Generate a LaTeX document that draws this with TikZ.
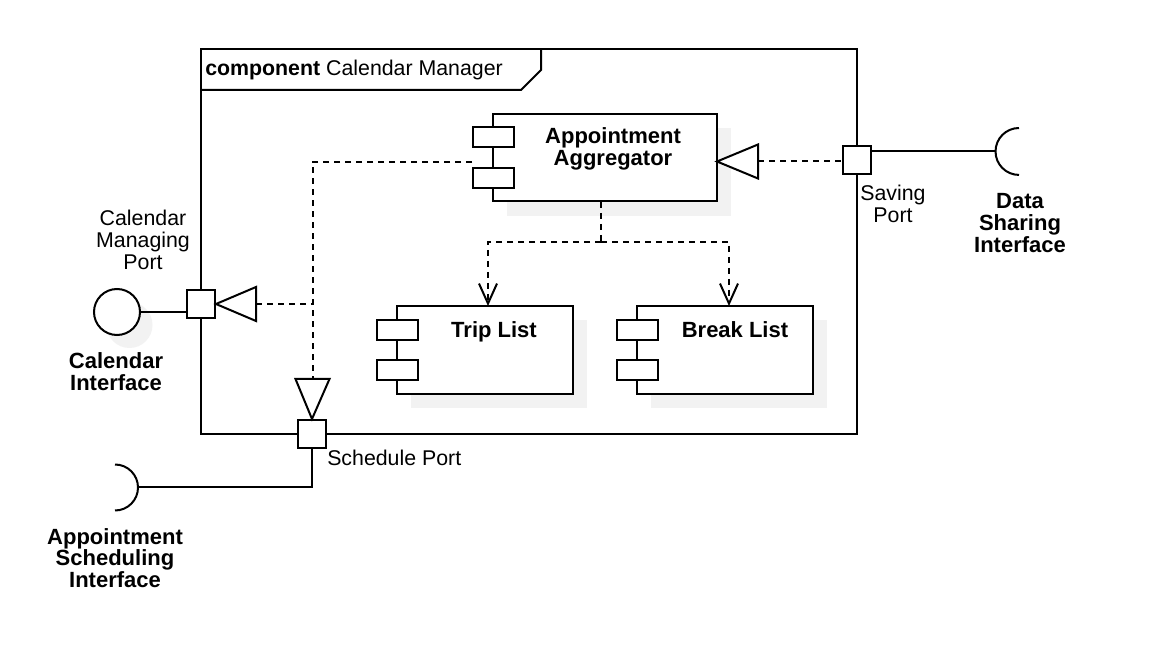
\documentclass[tikz,border=0pt]{standalone}
\usepackage{fontspec}
\setmainfont{Liberation Sans}
\usetikzlibrary{arrows.meta}
\definecolor{shd}{HTML}{F2F2F2}
\begin{document}
\begin{tikzpicture}[x=0.75pt,y=-0.75pt,
  ln/.style={line width=1.5pt},
  dsh/.style={line width=1.5pt, dash pattern=on 4.5pt off 3.75pt},
  compbox/.style={draw, line width=1.5pt, fill=white, inner sep=0pt},
  tabbox/.style={draw, line width=1.5pt, fill=white, minimum width=30.75pt, minimum height=15pt, inner sep=0pt},
  portbox/.style={draw, line width=1.5pt, fill=white, minimum size=21pt, inner sep=0pt},
  txt/.style={inner sep=0pt, align=center, font=\fontsize{16}{16.3}\selectfont},
  btxt/.style={inner sep=0pt, align=center, font=\fontsize{16.5}{16.3}\selectfont\bfseries},
  dep/.style={dsh, -{Straight Barb[length=15pt, width=13.5pt]}},
  tri/.style={line width=1.5pt, fill=white, line join=miter},
]
\fill[white] (0,0) rectangle (1158,652);
\useasboundingbox (0,0) rectangle (1158,652);

% frame
\draw[ln] (201,49) rectangle (857,434);
\draw[ln] (201,90) -- (521,90) -- (541,70) -- (541,49);
\node[txt, anchor=base west] (title) at (205,76) {\textbf{component} Calendar Manager};

% Appointment Aggregator
\fill[shd] (507,128) rectangle (731,216);
\node[compbox, minimum width=168pt, minimum height=65.25pt] (agg) at (605,157.5) {};
\node[tabbox] (aggt1) at (493,137.5) {};
\node[tabbox] (aggt2) at (493,178) {};
\node[btxt] (aggl) at (613,149) {Appointment\\Aggregator};

% Trip List
\fill[shd] (411,320) rectangle (587,408);
\node[compbox, minimum width=132.5pt, minimum height=66pt] (trip) at (485,350) {};
\node[tabbox] (tript1) at (397,330.3) {};
\node[tabbox] (tript2) at (397,369.7) {};
\node[btxt, anchor=base] (tripl) at (494,337.5) {Trip List};

% Break List
\fill[shd] (651,320) rectangle (827,408);
\node[compbox, minimum width=132.5pt, minimum height=66pt] (brk) at (725,350) {};
\node[tabbox] (brkt1) at (637,330.3) {};
\node[tabbox] (brkt2) at (637,369.7) {};
\node[btxt, anchor=base] (brkl) at (735,337.5) {Break List};

% coordinates
\coordinate (ds) at (601,242);
\coordinate (tripin) at (488,306);
\coordinate (brkin) at (729,306);
\coordinate (lc) at (312.5,162);
\coordinate (aggin) at (472,162);
\coordinate (jn) at (312.5,304);
\coordinate (stb) at (312.5,379);
\coordinate (ctb) at (256,304);
\coordinate (agt) at (717,161.5);
\coordinate (atb) at (758,161.5);
\coordinate (dsk) at (996,151.5);
\coordinate (dskt) at (1019,128);
\coordinate (ssk) at (138,487.5);
\coordinate (sskt) at (115,464.5);

% ports
\node[portbox] (cmp) at (201,304) {};
\node[portbox] (sch) at (312,434) {};
\node[portbox] (sav) at (857,160) {};

% dependencies
\draw[dsh] (agg.south -| ds) -- (ds);
\draw[dep] (ds) -| (tripin);
\draw[dep] (ds) -| (brkin);
\draw[dsh] (aggin) -- (lc) -- (stb);
\draw[dsh] (ctb) -- (jn);
\draw[dsh] (atb) -- (atb -| sav.west);

% triangles
\draw[tri] (sch.north) -- ([xshift=-12.75pt]stb) -- ([xshift=12.75pt]stb) -- cycle;
\draw[tri] (cmp.east) -- ([yshift=12.75pt]ctb) -- ([yshift=-12.75pt]ctb) -- cycle;
\draw[tri] (agt) -- ([yshift=12.75pt]atb) -- ([yshift=-12.75pt]atb) -- cycle;

% Calendar interface (provided)
\fill[shd] (129.5,325) circle[radius=17.25pt];
\node[draw, line width=1.5pt, circle, minimum size=34.5pt, inner sep=0pt, fill=white] (cif) at (117,312) {};
\draw[ln] (cif.east) -- (cif.east -| cmp.west);

% Data sharing interface (required)
\draw[ln] (dsk -| sav.east) -- (dsk);
\draw[ln] (dskt) arc[start angle=90, end angle=270, radius=17.6pt];

% Appointment scheduling interface (required)
\draw[ln] (sch.south) |- (ssk);
\draw[ln] (sskt) arc[start angle=90, end angle=-90, radius=17.25pt];

% labels
\node[txt] (cmpl) at (143,240) {Calendar\\Managing\\Port};
\node[btxt] (cifl) at (116,372) {Calendar\\Interface};
\node[txt] (savl) at (893,204) {Saving\\Port};
\node[btxt] (dskl) at (1020,223) {Data\\Sharing\\Interface};
\node[txt, anchor=west] (schl) at (327,458) {Schedule Port};
\node[btxt] (sskl) at (115,558) {Appointment\\Scheduling\\Interface};
\end{tikzpicture}
\end{document}
